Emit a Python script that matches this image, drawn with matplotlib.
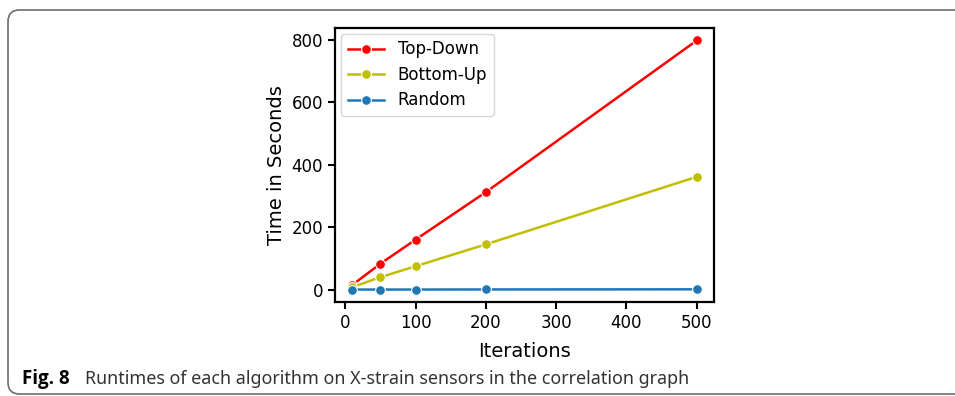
import matplotlib.pyplot as plt
from matplotlib.patches import FancyBboxPatch

plt.rcParams['font.family'] = ['DejaVu Sans']

iterations = [10, 50, 100, 200, 500]
top_down = [15, 83, 160, 312, 797]
bottom_up = [8, 40, 75, 145, 361]
random_alg = [0.5, 0.5, 0.5, 0.8, 1.2]

W, H = 955, 396
fig = plt.figure(figsize=(W / 100, H / 100), dpi=100)

# panel frame (rounded box that runs off the right edge)
frame = FancyBboxPatch((8 / W, 2 / H), 1.2, (H - 10 - 2) / H,
                       boxstyle="round,pad=0,rounding_size=0.012",
                       transform=fig.transFigure, fill=False,
                       edgecolor='#6e6e6e', linewidth=1.2, mutation_aspect=W / H)
fig.patches.append(frame)

ax = fig.add_axes([335 / W, 1 - 302 / H, (714 - 335) / W, (302 - 28) / H])
mk = dict(marker='o', markersize=7, markeredgecolor='white', markeredgewidth=0.8, linewidth=1.8)
ax.plot(iterations, top_down, color='red', label='Top-Down', **mk)
ax.plot(iterations, bottom_up, color='#bfbf00', label='Bottom-Up', **mk)
ax.plot(iterations, random_alg, color='#1f77b4', label='Random', **mk)

ax.set_xticks([0, 100, 200, 300, 400, 500])
ax.set_yticks([0, 200, 400, 600, 800])
ax.tick_params(labelsize=12, width=1.5, length=5)
for s in ax.spines.values():
    s.set_linewidth(1.6)
ax.set_xlabel('Iterations', fontsize=14, labelpad=7)
ax.set_ylabel('Time in Seconds', fontsize=14, labelpad=4)
ax.legend(loc='upper left', fontsize=12, handlelength=2.2, borderaxespad=0.35,
          labelspacing=0.45)

fig.text(22 / W, 1 - 384 / H, 'Fig. 8', fontsize=13.5, fontweight='bold',
         family='Open Sans', va='baseline')
fig.text(85 / W, 1 - 384 / H, 'Runtimes of each algorithm on X-strain sensors in the correlation graph',
         fontsize=12.9, family='Noto Sans', color='#333333', va='baseline')

fig.savefig('out.png', dpi=100)
